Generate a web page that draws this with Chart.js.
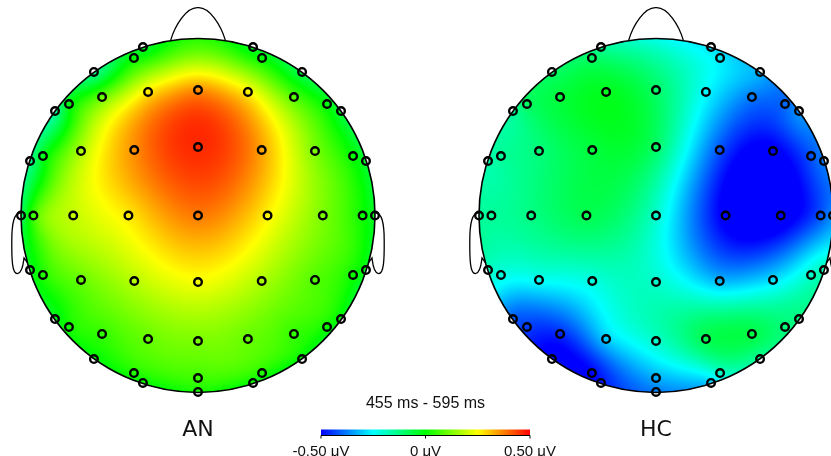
<!DOCTYPE html>
<html><head><meta charset="utf-8">
<script src="https://cdn.jsdelivr.net/npm/chart.js@4/dist/chart.umd.min.js"></script>
<style>
html,body{margin:0;padding:0;background:#fff}
#wrap{position:relative;width:831px;height:456px;overflow:hidden}
canvas{position:absolute}
</style>
</head><body>
<div id="wrap">
<canvas id="topo" width="831" height="456" style="left:0;top:0"></canvas>
<canvas id="cbar" width="330" height="68" style="left:261px;top:388px"></canvas>
</div>
<script>
// ---------------- DATA ----------------
const electrodes = ['Fp1','Fp2','AF7','AF3','AF4','AF8',
  'F7','F5','F3','F1','Fz','F2','F4','F6','F8',
  'FT7','FC5','FC3','FC1','FCz','FC2','FC4','FC6','FT8',
  'T7','C5','C3','C1','Cz','C2','C4','C6','T8',
  'TP7','CP5','CP3','CP1','CPz','CP2','CP4','CP6','TP8',
  'P7','P5','P3','P1','Pz','P2','P4','P6','P8',
  'PO7','PO3','O1','POz','Oz','O2','PO4','PO8'];
// montage layout (head radius = 1, nose up)
const elecX = [-0.311,0.311,-0.588,-0.362,0.362,0.588,
  -0.808,-0.729,-0.542,-0.282,0,0.282,0.542,0.729,0.808,
  -0.949,-0.876,-0.661,-0.360,0,0.360,0.661,0.876,0.949,
  -1.0,-0.93,-0.705,-0.393,0,0.393,0.705,0.93,1.0,
  -0.949,-0.876,-0.661,-0.360,0,0.360,0.661,0.876,0.949,
  -0.808,-0.729,-0.542,-0.282,0,0.282,0.542,0.729,0.808,
  -0.588,-0.362,-0.311,0,0,0.311,0.362,0.588];
const elecY = [0.952,0.952,0.811,0.890,0.890,0.811,
  0.590,0.630,0.669,0.698,0.709,0.698,0.669,0.630,0.590,
  0.308,0.336,0.364,0.370,0.387,0.370,0.364,0.336,0.308,
  0,0,0,0,0,0,0,0,0,
  -0.308,-0.336,-0.364,-0.370,-0.376,-0.370,-0.364,-0.336,-0.308,
  -0.585,-0.630,-0.669,-0.698,-0.709,-0.698,-0.669,-0.630,-0.585,
  -0.811,-0.890,-0.946,-0.918,-0.997,-0.946,-0.890,-0.811];
const groups = ['AN','HC'];
// mean amplitude (µV) per electrode
const valuesAN = [-0.05,-0.04,-0.14,0.0,0.0,-0.08,
  -0.15,-0.02,0.10,0.27,0.36,0.26,0.08,-0.01,-0.06,
  -0.14,-0.03,0.17,0.36,0.46,0.34,0.12,0.0,-0.05,
  -0.10,0.06,0.19,0.27,0.38,0.26,0.12,0.01,-0.04,
  -0.03,0.03,0.10,0.18,0.24,0.17,0.08,0.01,-0.03,
  -0.03,0.02,0.05,0.10,0.12,0.10,0.05,0.01,-0.02,
  -0.01,0.03,0.0,0.06,0.02,0.0,0.03,-0.01];
const valuesHC = [-0.15,-0.28,-0.10,-0.10,-0.27,-0.33,
  -0.15,-0.10,-0.06,-0.03,-0.10,-0.25,-0.38,-0.40,-0.36,
  -0.17,-0.15,-0.12,-0.06,-0.10,-0.42,-0.52,-0.42,-0.38,
  -0.15,-0.15,-0.13,-0.08,-0.20,-0.52,-0.55,-0.42,-0.36,
  -0.19,-0.22,-0.24,-0.22,-0.20,-0.32,-0.28,-0.20,-0.18,
  -0.41,-0.44,-0.46,-0.30,-0.20,-0.08,-0.07,-0.12,-0.13,
  -0.52,-0.50,-0.48,-0.33,-0.38,-0.30,-0.20,-0.15];
const timeWindow = '455 ms - 595 ms';
const colorTicks = [-0.5, 0, 0.5];
const colorRange = [-0.5, 0.5];
const unitLabel = 'μV';

// ---------------- LAYOUT / STYLE ----------------
const HEAD_R = 177;           // px per head unit
const HEAD_GAP = 458 / HEAD_R; // distance between head centres (head units)
const CX0 = 198, CY0 = 215.5;  // pixel of first head centre
const W = 831, H = 456;
const STOPS = [[0,[0,0,255]],[0.25,[0,255,255]],[0.5,[0,255,0]],[0.75,[255,255,0]],[1,[255,0,0]]];

function colorFor(v) {
  let t = (v - colorRange[0]) / (colorRange[1] - colorRange[0]);
  t = Math.max(0, Math.min(1, t));
  for (let i = 1; i < STOPS.length; i++) {
    if (t <= STOPS[i][0]) {
      const a = STOPS[i-1], b = STOPS[i];
      const f = (t - a[0]) / (b[0] - a[0]);
      return [0,1,2].map(k => Math.round(a[1][k] + (b[1][k] - a[1][k]) * f));
    }
  }
  return STOPS[STOPS.length-1][1];
}

function solve(A, b) {
  const n = b.length;
  const M = A.map((r, i) => r.concat([b[i]]));
  for (let c = 0; c < n; c++) {
    let p = c;
    for (let r = c + 1; r < n; r++) if (Math.abs(M[r][c]) > Math.abs(M[p][c])) p = r;
    [M[c], M[p]] = [M[p], M[c]];
    for (let r = c + 1; r < n; r++) {
      const f = M[r][c] / M[c][c];
      for (let k = c; k <= n; k++) M[r][k] -= f * M[c][k];
    }
  }
  const x = new Array(n).fill(0);
  for (let r = n - 1; r >= 0; r--) {
    let s = M[r][n];
    for (let k = r + 1; k < n; k++) s -= M[r][k] * x[k];
    x[r] = s / M[r][r];
  }
  return x;
}
function green(r2) { return r2 > 0 ? r2 * (0.5 * Math.log(r2) - 1) : 0; }
function makeInterp(xs, ys, vs) {
  const n = xs.length;
  const G = [];
  for (let i = 0; i < n; i++) {
    G.push([]);
    for (let j = 0; j < n; j++) {
      const dx = xs[i]-xs[j], dy = ys[i]-ys[j];
      G[i].push(green(dx*dx+dy*dy));
    }
  }
  const w = solve(G, vs.slice());
  return (x, y) => {
    let s = 0;
    for (let j = 0; j < n; j++) { const dx = x-xs[j], dy = y-ys[j]; s += w[j]*green(dx*dx+dy*dy); }
    return s;
  };
}

const seriesValues = [valuesAN, valuesHC];
const interps = seriesValues.map(v => makeInterp(elecX, elecY, v));

const topoPlugin = {
  id: 'topo',
  beforeDatasetsDraw(chart) {
    const ctx = chart.ctx, xs = chart.scales.x, ys = chart.scales.y;
    groups.forEach((g, gi) => {
      const hx = gi * HEAD_GAP;
      const cx = xs.getPixelForValue(hx), cy = ys.getPixelForValue(0);
      const r = xs.getPixelForValue(hx + 1) - cx;
      const x0 = Math.floor(cx - r - 1), y0 = Math.floor(cy - r - 1);
      const size = Math.ceil(2 * r + 3);
      const off = document.createElement('canvas');
      off.width = size; off.height = size;
      const octx = off.getContext('2d');
      const img = octx.createImageData(size, size);
      const colV = [], rowV = [];
      for (let i = 0; i < size; i++) colV.push(xs.getValueForPixel(x0 + i + 0.5) - hx);
      for (let j = 0; j < size; j++) rowV.push(ys.getValueForPixel(y0 + j + 0.5));
      const f = interps[gi];
      for (let j = 0; j < size; j++) {
        for (let i = 0; i < size; i++) {
          const u = colV[i], v = rowV[j];
          if (u*u + v*v > 1.03) continue;
          const c = colorFor(f(u, v));
          const k = (j * size + i) * 4;
          img.data[k] = c[0]; img.data[k+1] = c[1]; img.data[k+2] = c[2]; img.data[k+3] = 255;
        }
      }
      octx.putImageData(img, 0, 0);
      ctx.save();
      ctx.beginPath(); ctx.arc(cx, cy, r, 0, Math.PI * 2); ctx.clip();
      ctx.drawImage(off, x0, y0);
      ctx.restore();
      // outline
      const P = (u, v) => [xs.getPixelForValue(hx + u), ys.getPixelForValue(v)];
      ctx.save();
      ctx.strokeStyle = '#000'; ctx.lineWidth = 1.6;
      ctx.beginPath(); ctx.arc(cx, cy, r, 0, Math.PI * 2); ctx.stroke();
      ctx.lineWidth = 1.3;
      // nose
      ctx.beginPath();
      let a = P(-0.155, 0.988); ctx.moveTo(a[0], a[1]);
      let c1 = P(-0.13, 1.075), c2 = P(-0.065, 1.178), e = P(0, 1.174);
      ctx.bezierCurveTo(c1[0], c1[1], c2[0], c2[1], e[0], e[1]);
      c1 = P(0.065, 1.178); c2 = P(0.13, 1.075); e = P(0.155, 0.988);
      ctx.bezierCurveTo(c1[0], c1[1], c2[0], c2[1], e[0], e[1]);
      ctx.stroke();
      // ears
      [-1, 1].forEach(s => {
        ctx.beginPath();
        let p = P(s*1.0, 0.014); ctx.moveTo(p[0], p[1]);
        const segs = [
          [[s*1.04, 0.02],[s*1.052,-0.05],[s*1.052,-0.14]],
          [[s*1.053,-0.25],[s*1.05,-0.33],[s*1.02,-0.328]],
          [[s*0.99,-0.325],[s*0.986,-0.26],[s*0.983,-0.24]]
        ];
        segs.forEach(sg => {
          const q1 = P(...sg[0]), q2 = P(...sg[1]), q3 = P(...sg[2]);
          ctx.bezierCurveTo(q1[0], q1[1], q2[0], q2[1], q3[0], q3[1]);
        });
        p = P(s*0.963, -0.268); ctx.lineTo(p[0], p[1]);
        ctx.stroke();
      });
      ctx.restore();
    });
  },
  afterDraw(chart) {
    const ctx = chart.ctx, xs = chart.scales.x;
    ctx.save();
    ctx.fillStyle = '#111';
    ctx.font = '22px "DejaVu Sans"';
    ctx.textAlign = 'center'; ctx.textBaseline = 'middle';
    groups.forEach((g, gi) => {
      ctx.fillText(g, xs.getPixelForValue(gi * HEAD_GAP), 430);
    });
    ctx.restore();
  }
};

new Chart(document.getElementById('topo'), {
  type: 'scatter',
  data: {
    datasets: groups.map((g, gi) => ({
      label: g,
      data: elecX.map((x, i) => ({ x: x + gi * HEAD_GAP, y: elecY[i] })),
      pointRadius: 3.8,
      pointBorderWidth: 2.4,
      pointBorderColor: '#000',
      pointBackgroundColor: 'rgba(0,0,0,0)',
      showLine: false,
      clip: false
    }))
  },
  options: {
    responsive: false, animation: false, events: [],
    layout: { padding: 0, autoPadding: false },
    plugins: { legend: { display: false }, tooltip: { enabled: false } },
    scales: {
      x: { type: 'linear', display: false, min: -CX0 / HEAD_R, max: (W - CX0) / HEAD_R },
      y: { type: 'linear', display: false, min: -(H - CY0) / HEAD_R, max: CY0 / HEAD_R }
    }
  },
  plugins: [topoPlugin]
});

// colour bar: gradient fills the chart area; axis line, ticks and labels follow the x scale
const cbarPlugin = {
  id: 'cbar',
  afterDraw(chart) {
    const ctx = chart.ctx, a = chart.chartArea, xs = chart.scales.x;
    for (let px = Math.floor(a.left); px < Math.ceil(a.right); px++) {
      const c = colorFor(xs.getValueForPixel(px + 0.5));
      ctx.fillStyle = `rgb(${c[0]},${c[1]},${c[2]})`;
      ctx.fillRect(px, a.top, 1, a.bottom - a.top);
    }
    ctx.save();
    ctx.strokeStyle = '#000'; ctx.lineWidth = 1.2;
    ctx.beginPath(); ctx.moveTo(a.left, a.bottom); ctx.lineTo(a.right, a.bottom); ctx.stroke();
    ctx.lineWidth = 1;
    ctx.fillStyle = '#111';
    ctx.font = '15px "Liberation Sans"';
    ctx.textAlign = 'center'; ctx.textBaseline = 'middle';
    colorTicks.forEach(v => {
      const px = xs.getPixelForValue(v);
      ctx.beginPath(); ctx.moveTo(px, a.bottom); ctx.lineTo(px, a.bottom + 3); ctx.stroke();
      ctx.fillText((v === 0 ? '0' : v.toFixed(2)) + ' ' + unitLabel, px, a.bottom + 16);
    });
    ctx.restore();
  }
};

new Chart(document.getElementById('cbar'), {
  type: 'scatter',
  data: { datasets: [{ data: [] }] },
  options: {
    responsive: false, animation: false, events: [],
    layout: { padding: { left: 60, right: 61, top: 0, bottom: 20.5 }, autoPadding: false },
    plugins: {
      legend: { display: false }, tooltip: { enabled: false },
      title: { display: true, text: timeWindow, color: '#111',
        font: { family: 'Liberation Sans', size: 16, weight: 'normal' }, padding: { top: 6, bottom: 16.3 } }
    },
    scales: {
      x: { type: 'linear', display: false, min: colorRange[0], max: colorRange[1] },
      y: { display: false, min: 0, max: 1 }
    }
  },
  plugins: [cbarPlugin]
});
</script>
</body></html>
